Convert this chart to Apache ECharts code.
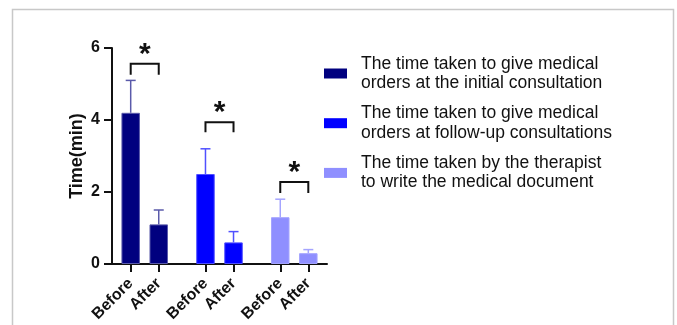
<!DOCTYPE html>
<html>
<head>
<meta charset="utf-8">
<script src="https://cdn.jsdelivr.net/npm/echarts@6/dist/echarts.min.js"></script>
<style>
  html, body { margin: 0; padding: 0; background: #fff; }
  #chart { width: 677px; height: 325px; }
</style>
</head>
<body>
<div id="chart"></div>
<script>
// Category slots along the x axis ('' = spacer slot between groups)
const categories = ['', '', 'Before', '', '', 'After', '', '', '', '', 'Before', '', '', 'After', '', '', '', '', 'Before', '', '', 'After', '', ''];
const seriesNames = [
  'The time taken to give medical\norders at the initial consultation',
  'The time taken to give medical\norders at follow-up consultations',
  'The time taken by the therapist\nto write the medical document'
];
// mean values [Before, After]
const initialMeans = [4.2, 1.1];
const followupMeans = [2.5, 0.6];
const therapistMeans = [1.3, 0.3];
// upper error (SD) [Before, After]
const initialErr = [0.9, 0.4];
const followupErr = [0.7, 0.3];
const therapistErr = [0.5, 0.1];
// significance brackets: [bracket top, leg bottom] per group
const bracketTop = [5.56, 3.94, 2.28];
const bracketLeg = [5.26, 3.66, 1.97];
const yTicks = [0, 2, 4, 6];

const colors = ['#00007f', '#0000ff', '#8f8fff'];
const edgeColors = ['#5a5aaa', '#5050ff', '#a4a4ff'];
const FONT = "'Liberation Sans', Arial, sans-serif";

const meansAll = [initialMeans, followupMeans, therapistMeans];
const errAll = [initialErr, followupErr, therapistErr];
const labelIdx = categories.map((c, i) => c !== '' ? i : -1).filter(i => i >= 0);

const series = [];
meansAll.forEach((m, s) => {
  const data = categories.map(() => null);
  data[labelIdx[2 * s]] = m[0];
  data[labelIdx[2 * s + 1]] = m[1];
  series.push({
    name: seriesNames[s],
    type: 'bar',
    data: data,
    barWidth: 18.5,
    barGap: '-100%',
    itemStyle: { color: colors[s], borderColor: edgeColors[s], borderWidth: 1 },
    z: 2
  });
});

// error bars
meansAll.forEach((m, s) => {
  const data = [0, 1].map(k => [labelIdx[2 * s + k], m[k], m[k] + errAll[s][k]]);
  series.push({
    name: 'err' + s,
    type: 'custom',
    data: data,
    z: 3,
    renderItem: function (params, api) {
      const p0 = api.coord([api.value(0), api.value(1)]);
      const p1 = api.coord([api.value(0), api.value(2)]);
      const st = { stroke: edgeColors[s], lineWidth: 1.5 };
      return {
        type: 'group',
        children: [
          { type: 'line', shape: { x1: p0[0], y1: p0[1], x2: p1[0], y2: p1[1] }, style: st },
          { type: 'line', shape: { x1: p1[0] - 5, y1: p1[1], x2: p1[0] + 5, y2: p1[1] }, style: st }
        ]
      };
    }
  });
});

// significance brackets
series.push({
  name: 'sig',
  type: 'custom',
  data: [0, 1, 2].map(g => [labelIdx[2 * g], labelIdx[2 * g + 1], bracketTop[g], bracketLeg[g]]),
  z: 4,
  renderItem: function (params, api) {
    const a = api.coord([api.value(0), api.value(3)]);
    const b = api.coord([api.value(0), api.value(2)]);
    const c = api.coord([api.value(1), api.value(2)]);
    const d = api.coord([api.value(1), api.value(3)]);
    return {
      type: 'group',
      children: [
        { type: 'polyline', shape: { points: [a, b, c, d] }, style: { stroke: '#111', lineWidth: 2, fill: null } },
        { type: 'text', x: (b[0] + c[0]) / 2, y: b[1] - 9,
          style: { text: '*', font: 'bold 30px ' + FONT, fill: '#111', align: 'center', verticalAlign: 'middle' } }
      ]
    };
  }
});

const chart = echarts.init(document.getElementById('chart'), null, { renderer: 'canvas' });
chart.setOption({
  animation: false,
  backgroundColor: '#fff',
  textStyle: { fontFamily: FONT },
  graphic: [{
    type: 'rect', shape: { x: 12.5, y: 9.5, width: 661, height: 330 },
    style: { fill: null, stroke: '#c8c8c8', lineWidth: 1.5 }, silent: true
  }],
  legend: {
    data: seriesNames,
    orient: 'vertical',
    left: 319,
    top: 49,
    itemWidth: 23,
    itemHeight: 10,
    itemGap: 10.7,
    icon: 'rect',
    selectedMode: false,
    itemStyle: { borderWidth: 0 },
    textStyle: { fontFamily: FONT, fontSize: 17.5, lineHeight: 19.5, color: '#111', padding: [0, 0, 0, 9] }
  },
  grid: { left: 112, top: 48, width: 215, height: 216 },
  xAxis: {
    type: 'category',
    data: categories,
    boundaryGap: false,
    axisLine: { lineStyle: { color: '#111', width: 2 } },
    axisTick: { length: 8, lineStyle: { color: '#111', width: 2 }, interval: (i, v) => v !== '' },
    axisLabel: {
      interval: (i, v) => v !== '',
      rotate: 45, margin: 17,
      fontFamily: FONT, fontSize: 16, fontWeight: 'bold', color: '#111'
    },
    splitLine: { show: false }
  },
  yAxis: {
    type: 'value',
    min: yTicks[0], max: yTicks[yTicks.length - 1], interval: 2,
    name: 'Time(min)',
    nameLocation: 'middle',
    nameGap: 26,
    nameTextStyle: { fontFamily: FONT, fontSize: 18, fontWeight: 'bold', color: '#111' },
    axisLine: { show: true, lineStyle: { color: '#111', width: 2 } },
    axisTick: { show: true, length: 8, lineStyle: { color: '#111', width: 2 } },
    axisLabel: { margin: 12, fontFamily: FONT, fontSize: 16, fontWeight: 'bold', color: '#111' },
    splitLine: { show: false }
  },
  series: series
});
</script>
</body>
</html>
